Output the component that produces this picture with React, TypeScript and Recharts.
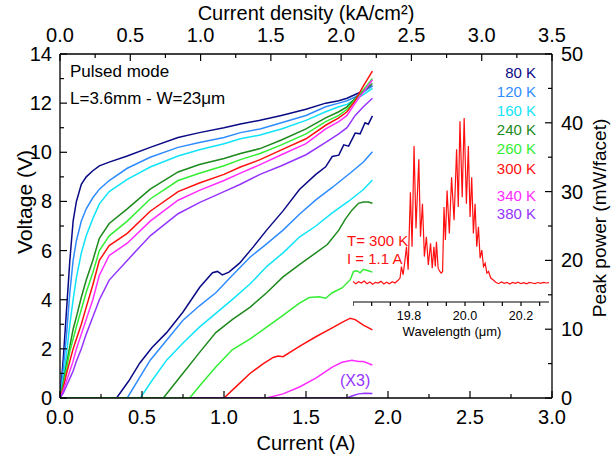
import React from "react";
import { LineChart, Line, XAxis, YAxis, Customized } from "recharts";

const FONT = '"Liberation Sans", Arial, Helvetica, sans-serif';

const temperatures = ["80 K", "120 K", "160 K", "240 K", "260 K", "300 K", "340 K", "380 K"];
const colors = ["#0a0a86", "#2f8cff", "#10e4f8", "#1d8a1d", "#33ee33", "#ff1010", "#ff2cff", "#9534ff"];

// Voltage curves (left axis): shared current grid (A)
const ivCurrent = [0, 0.02, 0.04, 0.06, 0.08, 0.1, 0.13, 0.16, 0.2, 0.24, 0.3, 0.41, 0.55, 0.72, 0.85, 1.0, 1.1, 1.22, 1.35, 1.5, 1.62, 1.7, 1.75, 1.8, 1.85, 1.905];
const v80 = [0, 1.6, 3.6, 5.6, 7.2, 8.0, 8.7, 9.0, 9.25, 9.45, 9.6, 9.85, 10.2, 10.6, 10.8, 11.0, 11.15, 11.3, 11.5, 11.75, 12.0, 12.1, 12.2, 12.35, 12.5, 12.7];
const v120 = [0, 1.2, 2.6, 4.3, 5.6, 6.4, 7.2, 7.7, 8.15, 8.5, 8.85, 9.35, 9.8, 10.2, 10.4, 10.6, 10.8, 10.95, 11.2, 11.5, 11.85, 12.0, 12.1, 12.25, 12.45, 12.7];
const v160 = [0, 0.8, 1.8, 3.0, 4.0, 4.9, 5.9, 6.6, 7.3, 7.9, 8.4, 8.9, 9.4, 9.85, 10.1, 10.35, 10.55, 10.7, 10.95, 11.3, 11.65, 11.85, 11.95, 12.15, 12.35, 12.6];
const v240 = [0, 0.6, 1.4, 2.1, 2.8, 3.3, 4.1, 4.8, 5.6, 6.5, 7.1, 7.7, 8.5, 9.2, 9.5, 9.75, 9.95, 10.15, 10.5, 10.95, 11.4, 11.65, 11.85, 12.2, 12.5, 12.8];
const v260 = [0, 0.5, 1.2, 1.9, 2.4, 2.9, 3.6, 4.3, 5.1, 6.0, 6.6, 7.2, 8.1, 8.85, 9.15, 9.45, 9.7, 9.95, 10.3, 10.75, 11.25, 11.5, 11.75, 12.15, 12.55, 13.0];
const v300 = [0, 0.4, 1.0, 1.5, 2.0, 2.4, 3.0, 3.7, 4.6, 5.6, 6.2, 6.7, 7.6, 8.4, 8.75, 9.1, 9.4, 9.7, 10.1, 10.55, 11.1, 11.4, 11.65, 12.1, 12.7, 13.3];
const v340 = [0, 0.3, 0.7, 1.1, 1.5, 2.0, 2.6, 3.2, 4.0, 5.0, 5.8, 6.3, 7.2, 8.05, 8.45, 8.85, 9.15, 9.5, 9.9, 10.35, 10.95, 11.25, 11.5, 12.0, 12.45, 12.95];
const v380 = [0, 0.2, 0.5, 0.8, 1.1, 1.5, 2.0, 2.6, 3.3, 4.0, 4.8, 5.6, 6.6, 7.5, 7.95, 8.4, 8.7, 9.1, 9.45, 9.9, 10.4, 10.75, 11.0, 11.5, 11.85, 12.2];
const voltageSeries = [v80, v120, v160, v240, v260, v300, v340, v380];

// Peak power curves (right axis): [current A, power mW]
const p80 = [[0, 0], [0.345, 0], [0.42, 2.5], [0.487, 5.1], [0.56, 7.3], [0.65, 9.5], [0.75, 12.5], [0.852, 16.1], [0.93, 18.2], [0.96, 18.4], [0.99, 17.9], [1.03, 18.3], [1.095, 19.6], [1.18, 22.0], [1.26, 24.4], [1.36, 27.2], [1.46, 30.3], [1.56, 32.5], [1.62, 33.6], [1.66, 35.1], [1.7, 35.3], [1.73, 36.8], [1.76, 36.6], [1.8, 38.5], [1.83, 38.4], [1.86, 40.0], [1.88, 39.8], [1.905, 41.0]];
const p120 = [[0, 0], [0.41, 0], [0.55, 5.5], [0.65, 8.4], [0.75, 11.3], [0.85, 13.4], [0.95, 15.3], [1.05, 17.8], [1.16, 20.5], [1.26, 22.4], [1.36, 24.4], [1.46, 26.7], [1.56, 28.8], [1.66, 30.6], [1.77, 32.7], [1.85, 34.3], [1.905, 35.8]];
const p160 = [[0, 0], [0.49, 0], [0.56, 2.5], [0.65, 5.5], [0.75, 8.0], [0.85, 10.3], [0.95, 12.3], [1.05, 14.3], [1.16, 16.6], [1.26, 19.1], [1.36, 21.1], [1.46, 23.4], [1.56, 25.0], [1.66, 26.9], [1.76, 28.6], [1.85, 30.3], [1.905, 31.7]];
const p240 = [[0, 0], [0.63, 0], [0.75, 3.6], [0.85, 6.6], [0.95, 9.5], [1.05, 11.4], [1.16, 13.2], [1.26, 15.3], [1.36, 17.6], [1.46, 19.4], [1.56, 21.1], [1.63, 22.3], [1.7, 24.4], [1.74, 26.0], [1.78, 27.3], [1.82, 28.3], [1.85, 28.5], [1.88, 28.5], [1.905, 28.3]];
const p260 = [[0, 0], [0.79, 0], [0.87, 2.3], [0.95, 4.5], [1.05, 7.0], [1.16, 8.6], [1.26, 10.3], [1.36, 12.0], [1.46, 13.8], [1.52, 14.6], [1.58, 14.7], [1.62, 14.5], [1.66, 15.3], [1.72, 16.0], [1.77, 17.2], [1.79, 18.4], [1.81, 18.5], [1.83, 18.2], [1.85, 18.7], [1.88, 18.5], [1.905, 18.3]];
const p300 = [[0.8, 0], [1.0, 0], [1.08, 1.8], [1.16, 3.6], [1.24, 5.0], [1.3, 5.9], [1.33, 6.1], [1.36, 6.0], [1.46, 7.5], [1.56, 8.9], [1.66, 10.2], [1.72, 11.0], [1.77, 11.6], [1.8, 11.4], [1.85, 10.6], [1.905, 9.9]];
const p340 = [[0.8, 0], [1.26, 0], [1.36, 0.6], [1.46, 1.6], [1.56, 2.9], [1.66, 4.5], [1.72, 5.2], [1.78, 5.5], [1.82, 5.3], [1.85, 5.3], [1.905, 4.8]];
const p380 = [[0.8, 0], [1.75, 0], [1.78, 0.3], [1.82, 0.6], [1.86, 0.7], [1.905, 0.65]];
const powerSeries = [p80, p120, p160, p240, p260, p300, p340, p380];

// Inset spectrum (T = 300 K, I = 1.1 A)
const specWavelength = [19.6, 19.61, 19.62, 19.63, 19.64, 19.65, 19.66, 19.67, 19.68, 19.69, 19.7, 19.71, 19.72, 19.73, 19.74, 19.75, 19.76, 19.768,
  19.773, 19.779, 19.785, 19.791, 19.797, 19.805, 19.811, 19.818, 19.825, 19.835, 19.841, 19.848, 19.855, 19.862, 19.869, 19.877, 19.883, 19.889, 19.894, 19.898, 19.904, 19.91, 19.915, 19.92,
  19.925, 19.93, 19.936, 19.944, 19.952, 19.961, 19.97, 19.976, 19.982, 19.99, 19.997, 20.005, 20.012, 20.018, 20.024, 20.03, 20.036, 20.042, 20.048, 20.054, 20.06, 20.066, 20.072, 20.078, 20.084, 20.092, 20.1,
  20.11, 20.12, 20.13, 20.14, 20.15, 20.16, 20.17, 20.18, 20.19, 20.2, 20.21, 20.22, 20.23, 20.24, 20.25, 20.26, 20.27, 20.28, 20.29, 20.3];
const specIntensity = [0.01, -0.005, 0.008, 0.0, 0.012, -0.004, 0.006, -0.008, 0.004, 0.0, 0.01, -0.006, 0.005, -0.004, 0.008, 0.0, 0.015, 0.03,
  0.1, 0.05, 0.13, 0.22, 0.08, 0.55, 0.22, 0.83, 0.33, 0.75, 0.28, 0.48, 0.16, 0.28, 0.11, 0.24, 0.09, 0.22, 0.1, 0.25, 0.09, 0.07, 0.06, 0.07,
  0.46, 0.26, 0.56, 0.3, 0.64, 0.38, 0.81, 0.46, 0.98, 0.52, 1.0, 0.48, 0.83, 0.4, 0.64, 0.3, 0.48, 0.22, 0.34, 0.15, 0.2, 0.1, 0.12, 0.06, 0.07, 0.03, 0.02,
  0.005, -0.004, 0.006, -0.002, 0.004, -0.006, 0.003, -0.002, 0.005, -0.004, 0.002, -0.005, 0.004, 0.0, -0.004, 0.003, -0.002, 0.004, 0.0, 0.002];

// Axis ticks
const currentTicks = [0, 0.25, 0.5, 0.75, 1, 1.25, 1.5, 1.75, 2, 2.25, 2.5, 2.75, 3];
const currentLabels = [0, 0.5, 1, 1.5, 2, 2.5, 3];
const densityRange = [0, 3.5];
const densityTicks = [0, 0.25, 0.5, 0.75, 1, 1.25, 1.5, 1.75, 2, 2.25, 2.5, 2.75, 3, 3.25, 3.5];
const densityLabels = [0, 0.5, 1, 1.5, 2, 2.5, 3, 3.5];
const voltageTicks = [0, 1, 2, 3, 4, 5, 6, 7, 8, 9, 10, 11, 12, 13, 14];
const voltageLabels = [0, 2, 4, 6, 8, 10, 12, 14];
const powerTicks = [0, 5, 10, 15, 20, 25, 30, 35, 40, 45, 50];
const powerLabels = [0, 10, 20, 30, 40, 50];
const wavelengthTicks = [19.6, 19.6667, 19.7333, 19.8, 19.8667, 19.9333, 20.0, 20.0667, 20.1333, 20.2, 20.2667];
const wavelengthLabels = [19.8, 20.0, 20.2];

const legendY = [72, 91, 110, 129, 148.5, 168.5, 195, 213.5];

type Side = "left" | "right" | "top" | "bottom";
function makeTick(side: Side, labels: number[], digits: number, o: { major: number; minor: number; gap: number; fontSize: number; outward?: boolean }) {
  return function Tick(props: any) {
    const { x, y, payload } = props;
    const v = Number(payload.value);
    const isMajor = labels.some((m) => Math.abs(m - v) < 1e-3);
    const len = isMajor ? o.major : o.minor;
    const dir = o.outward ? -1 : 1;
    let x2 = x, y2 = y, tx = x, ty = y;
    let anchor: any = "middle";
    if (side === "left") { x2 = x + dir * len; tx = x - o.gap; anchor = "end"; }
    if (side === "right") { x2 = x - dir * len; tx = x + o.gap; anchor = "start"; }
    if (side === "top") { y2 = y + dir * len; ty = y - o.gap; }
    if (side === "bottom") { y2 = y - dir * len; ty = y + o.gap; }
    return (
      <g>
        <line x1={x} y1={y} x2={x2} y2={y2} stroke="#000" strokeWidth={1.2} />
        {isMajor && (
          <text x={tx} y={ty} textAnchor={anchor} dominantBaseline="central" fontSize={o.fontSize} fontFamily={FONT} fill="#000">
            {v.toFixed(digits)}
          </text>
        )}
      </g>
    );
  };
}

const Annotations = () => (
  <g fontFamily={FONT}>
    <text x={306} y={13} textAnchor="middle" dominantBaseline="central" fontSize={20} fill="#000">Current density (kA/cm²)</text>
    <text x={306} y={443} textAnchor="middle" dominantBaseline="central" fontSize={20} fill="#000">Current (A)</text>
    <text transform="translate(24,202) rotate(-90)" textAnchor="middle" dominantBaseline="central" fontSize={21} fill="#000">Voltage (V)</text>
    <text transform="translate(599,218) rotate(-90)" textAnchor="middle" dominantBaseline="central" fontSize={19} fill="#000">Peak power (mW/facet)</text>
    <text x={70} y={71} dominantBaseline="central" fontSize={17} fill="#000">Pulsed mode</text>
    <text x={70} y={98} dominantBaseline="central" fontSize={17} fill="#000">L=3.6mm - W=23μm</text>
    {temperatures.map((t, i) => (
      <text key={t} x={536} y={legendY[i]} textAnchor="end" dominantBaseline="central" fontSize={15} fill={colors[i]}>{t}</text>
    ))}
    <text x={347} y={240} dominantBaseline="central" fontSize={15} fill={colors[5]}>T= 300 K</text>
    <text x={347} y={258} dominantBaseline="central" fontSize={15} fill={colors[5]}>I = 1.1 A</text>
    <text x={340} y={380} dominantBaseline="central" fontSize={16} fill={colors[7]}>(X3)</text>
    <text x={452} y={331} textAnchor="middle" dominantBaseline="central" fontSize={13} fill="#000">Wavelength (μm)</text>
  </g>
);

const axisLine = { stroke: "#000", strokeWidth: 1.3 };

export default function App() {
  const vData = voltageSeries.map((vs) => ivCurrent.map((c, k) => ({ i: c, v: vs[k] })));
  const pData = powerSeries.map((ps) => ps.map(([c, p]) => ({ i: c, v: p })));
  const spec = specWavelength.map((w, k) => ({ w, s: specIntensity[k] }));
  const densityCarrier = densityRange.map((d) => ({ i: d, v: 0 }));

  return (
    <div style={{ position: "absolute", left: 0, top: 0, width: 616, height: 459, background: "#fff", fontFamily: FONT }}>
      <LineChart width={616} height={459} margin={{ top: 0, right: 0, bottom: 0, left: 0 }}>
        <XAxis xAxisId="cur" dataKey="i" type="number" domain={[0, 3]} ticks={currentTicks} interval={0} orientation="bottom" height={61}
          tickSize={0} tickMargin={0} axisLine={axisLine} tickLine={false} allowDataOverflow
          tick={makeTick("bottom", currentLabels, 1, { major: 7, minor: 4, gap: 19, fontSize: 20 })} />
        <XAxis xAxisId="den" dataKey="i" type="number" domain={[0, 3.5]} ticks={densityTicks} interval={0} orientation="top" height={54}
          tickSize={0} tickMargin={0} axisLine={axisLine} tickLine={false} allowDataOverflow
          tick={makeTick("top", densityLabels, 1, { major: 7, minor: 4, gap: 19, fontSize: 20 })} />
        <YAxis yAxisId="v" type="number" domain={[0, 14]} ticks={voltageTicks} interval={0} orientation="left" width={60}
          tickSize={0} tickMargin={0} axisLine={axisLine} tickLine={false} allowDataOverflow
          tick={makeTick("left", voltageLabels, 0, { major: 7, minor: 4, gap: 8, fontSize: 20 })} />
        <YAxis yAxisId="p" type="number" domain={[0, 50]} ticks={powerTicks} interval={0} orientation="right" width={64}
          tickSize={0} tickMargin={0} axisLine={axisLine} tickLine={false} allowDataOverflow
          tick={makeTick("right", powerLabels, 0, { major: 7, minor: 4, gap: 9, fontSize: 20 })} />
        <Line xAxisId="den" yAxisId="v" data={densityCarrier} dataKey="v" stroke="transparent" strokeWidth={0} dot={false} activeDot={false} isAnimationActive={false} />
        {vData.map((d, k) => (
          <Line key={"v" + k} xAxisId="cur" yAxisId="v" data={d} dataKey="v" type="linear" stroke={colors[k]} strokeWidth={1.5} dot={false} activeDot={false} isAnimationActive={false} />
        ))}
        {pData.map((d, k) => (
          <Line key={"p" + k} xAxisId="cur" yAxisId="p" data={d} dataKey="v" type="linear" stroke={colors[k]} strokeWidth={1.5} dot={false} activeDot={false} isAnimationActive={false} />
        ))}
        <Customized component={Annotations} />
      </LineChart>
      <div style={{ position: "absolute", left: 353, top: 110 }}>
        <LineChart width={196} height={232} margin={{ top: 0, right: 0, bottom: 0, left: 0 }}>
          <XAxis dataKey="w" type="number" domain={[19.6, 20.3]} ticks={wavelengthTicks} interval={0} orientation="bottom" height={40}
            tickSize={0} tickMargin={0} axisLine={{ stroke: "#000", strokeWidth: 1 }} tickLine={false} allowDataOverflow
            tick={makeTick("bottom", wavelengthLabels, 1, { major: 4, minor: 4, gap: 14, fontSize: 12.5, outward: true })} />
          <YAxis hide type="number" domain={[-0.115, 1.048]} allowDataOverflow />
          <Line data={spec} dataKey="s" type="linear" stroke={colors[5]} strokeWidth={1.2} dot={false} activeDot={false} isAnimationActive={false} />
        </LineChart>
      </div>
    </div>
  );
}
